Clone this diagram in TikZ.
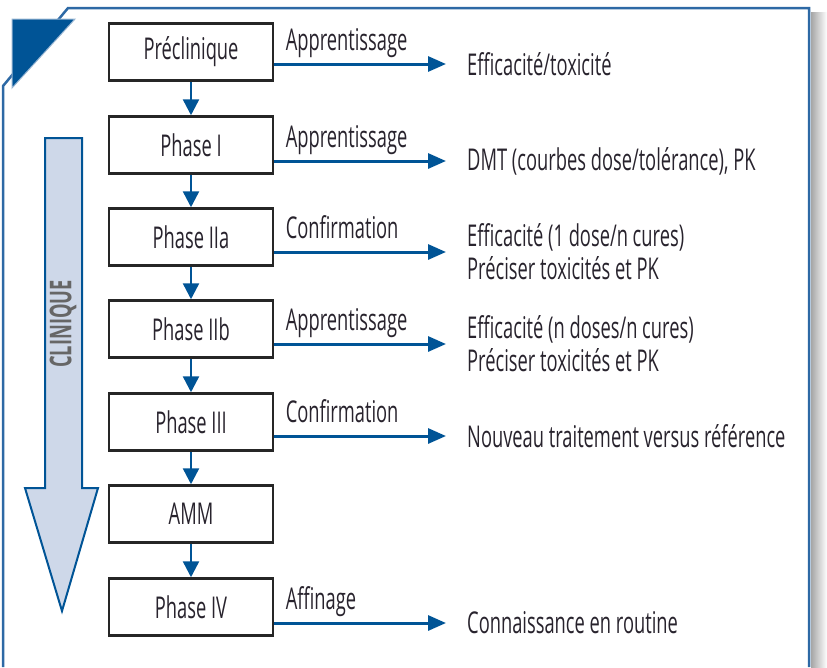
\documentclass[tikz,border=0pt]{standalone}
\usepackage{fontspec}
\setmainfont{Open Sans}[FakeStretch=0.61]
\usetikzlibrary{arrows.meta}

\definecolor{flowblue}{RGB}{0,84,150}
\definecolor{frameblue}{RGB}{45,105,165}
\definecolor{paleblue}{RGB}{206,216,233}
\definecolor{ink}{RGB}{40,35,45}

\tikzset{
  phase/.style={draw=black!85, line width=2.5pt, fill=white, minimum width=164pt,
    minimum height=57pt, inner sep=0pt, text=ink},
  down/.style={-{Triangle[length=16pt,width=16pt]}, line width=2.5pt, flowblue},
  conn/.style={-{Triangle[length=18pt,width=15pt]}, line width=3pt, flowblue},
  tag/.style={anchor=base west, inner sep=0pt, text=ink, pos=0, xshift=10pt, yshift=14pt},
  result/.style={anchor=west, inner sep=0pt, text=ink, align=left}
}

\begin{document}
\begin{tikzpicture}[x=1pt,y=-1pt,font=\fontsize{30}{33}\selectfont]
  \useasboundingbox (0,0) rectangle (827,667);
  % frame
  \shade [left color=black!35, right color=white] (811,12) rectangle (827,667);
  \draw [frameblue, line width=2.5pt] (3,667) -- (3,86) -- (68,8) -- (809,8) -- (809,667);
  \filldraw [fill=flowblue, draw=frameblue!50, line width=1pt] (12,19) -- (75,19) -- (12,88) -- cycle;
  % big arrow
  \filldraw [fill=paleblue, draw=flowblue, line width=2pt] (45,138) -- (82,138) -- (82,488)
    -- (98,488) -- (62,611) -- (25,488) -- (45,488) -- cycle;
  \node [rotate=90, text=black!60, font=\fontsize{30}{33}\selectfont\bfseries] (clin) at (63,324) {CLINIQUE};
  % phases
  \node [phase] (pc) at (191,52) {Préclinique};
  \node [phase] (p1) at (191,145) {Phase I};
  \node [phase] (p2a) at (191,237) {Phase IIa};
  \node [phase] (p2b) at (191,329) {Phase IIb};
  \node [phase] (p3) at (191,422) {Phase III};
  \node [phase] (amm) at (191,514) {AMM};
  \node [phase] (p4) at (191,607) {Phase IV};
  \foreach \a/\b in {pc/p1, p1/p2a, p2a/p2b, p2b/p3, p3/amm, amm/p4}
    \draw [down] (\a) -- (\b);
  % results
  \node [result] (r1) at (467,64) {Efficacité/toxicité};
  \node [result] (r2) at (467,161) {DMT (courbes dose/tolérance), PK};
  \node [result] (r3) at (467,252) {Efficacité (1 dose/n cures)\\Préciser toxicités et PK};
  \node [result] (r4) at (467,344) {Efficacité (n doses/n cures)\\Préciser toxicités et PK};
  \node [result] (r5) at (467,436) {Nouveau traitement versus référence};
  \node [result] (r6) at (467,623) {Connaissance en routine};
  \draw [conn] (pc.east |- r1.west) -- node [tag] (t1) {Apprentissage} ([xshift=-21pt]r1.west);
  \draw [conn] (p1.east |- r2.west) -- node [tag] (t2) {Apprentissage} ([xshift=-21pt]r2.west);
  \draw [conn] (p2a.east |- r3.west) -- node [tag] (t3) {Confirmation} ([xshift=-21pt]r3.west);
  \draw [conn] (p2b.east |- r4.west) -- node [tag] (t4) {Apprentissage} ([xshift=-21pt]r4.west);
  \draw [conn] (p3.east |- r5.west) -- node [tag] (t5) {Confirmation} ([xshift=-21pt]r5.west);
  \draw [conn] (p4.east |- r6.west) -- node [tag] (t6) {Affinage} ([xshift=-21pt]r6.west);
\end{tikzpicture}
\end{document}
